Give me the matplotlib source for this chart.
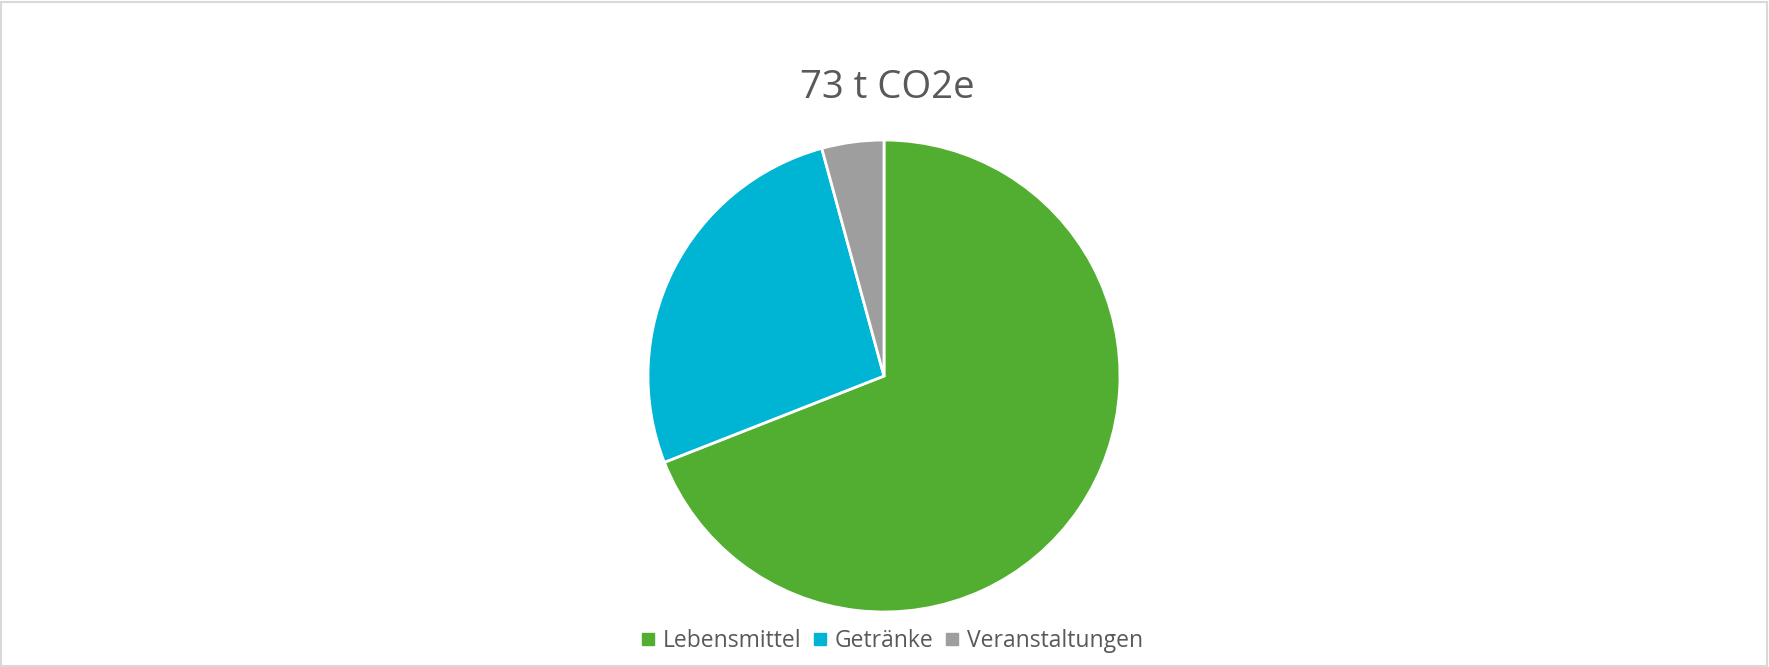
import matplotlib.pyplot as plt
from matplotlib.lines import Line2D
from matplotlib.patches import Rectangle

plt.rcParams['font.family'] = ['Open Sans', 'DejaVu Sans']

# Emissionen in t CO2e
kategorien = ['Lebensmittel', 'Getränke', 'Veranstaltungen']
werte = [50.4, 19.5, 3.1]
farben = ['#52ae30', '#00b5d4', '#9e9e9e']
titel = '73 t CO2e'

W, H = 1769, 667
fig = plt.figure(figsize=(W / 100, H / 100), dpi=100)

# heller Rahmen ums Diagramm
fig.patches.append(Rectangle((1 / W, 1 / H), 1 - 3 / W, 1 - 3 / H, transform=fig.transFigure,
                             fill=False, edgecolor='#d9d9d9', linewidth=1.5))

# Torte: Mitte (884, 376), Radius 236 px
cx, cy, r = 884, 376, 236
ax = fig.add_axes([(cx - r) / W, (H - cy - r) / H, 2 * r / W, 2 * r / H])
ax.pie(werte, colors=farben, startangle=90, counterclock=False, radius=1,
       wedgeprops={'edgecolor': 'white', 'linewidth': 2})
ax.set_xlim(-1, 1)
ax.set_ylim(-1, 1)
ax.set_aspect('equal')
ax.axis('off')

fig.text(887 / W, 1 - 88 / H, titel, ha='center', va='center', fontsize=27.5, color='#595959')

handles = [Line2D([], [], marker='s', linestyle='none', markersize=8, color=c) for c in farben]
fig.legend(handles, kategorien, loc='center', bbox_to_anchor=(890 / W, 1 - 641 / H), ncol=3,
           frameon=False, fontsize=16.5, labelcolor='#595959', handletextpad=0.15,
           columnspacing=0.3, handlelength=1.0)

fig.savefig('out.png', dpi=100)
